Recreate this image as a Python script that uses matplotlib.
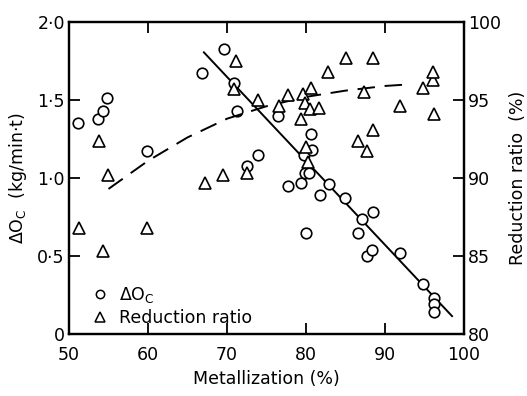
import numpy as np
import matplotlib
matplotlib.use("Agg")
import matplotlib.pyplot as plt
from matplotlib.lines import Line2D

# Oxygen consumption change (kg/min·t) versus metallization (%)
oc_metal = [51.1, 53.7, 54.3, 54.8, 59.9, 66.8, 69.6, 70.9, 71.3, 72.5, 73.9,
            76.5, 77.7, 79.4, 79.7, 79.9, 80.0, 80.4, 80.6, 80.8, 81.8, 82.9,
            85.0, 86.6, 87.1, 87.7, 88.4, 88.5, 91.9, 94.9, 96.2, 96.2, 96.2]
oc_value = [1.35, 1.38, 1.43, 1.51, 1.17, 1.67, 1.83, 1.61, 1.43, 1.08, 1.15,
            1.40, 0.95, 0.97, 1.15, 1.03, 0.65, 1.03, 1.28, 1.18, 0.89, 0.96,
            0.87, 0.65, 0.74, 0.50, 0.54, 0.78, 0.52, 0.32, 0.23, 0.19, 0.14]

# Reduction ratio (%) versus metallization (%)
rr_metal = [51.3, 53.8, 54.3, 54.9, 59.9, 67.2, 69.5, 70.9, 71.1, 72.5, 73.9,
            76.6, 77.7, 79.4, 79.6, 79.9, 80.0, 80.3, 80.5, 80.7, 81.7, 82.8,
            85.1, 86.6, 87.3, 87.7, 88.5, 88.5, 91.9, 94.8, 96.1, 96.1, 96.2]
rr_value = [86.8, 92.4, 85.3, 90.2, 86.8, 89.7, 90.2, 95.7, 97.5, 90.3, 95.0,
            94.6, 95.3, 93.8, 95.4, 94.8, 92.0, 91.0, 94.4, 95.8, 94.5, 96.8,
            97.7, 92.4, 95.5, 91.7, 93.1, 97.7, 94.6, 95.8, 96.3, 96.8, 94.1]

# Trend lines
oc_trend_x = [67.0, 98.6]
oc_trend_y = [1.81, 0.11]
rr_trend_x = [55.0, 60.0, 65.0, 70.0, 75.0, 80.0, 85.0, 90.0, 93.0]
rr_trend_y = [89.3, 91.1, 92.6, 93.8, 94.6, 95.2, 95.6, 95.9, 96.0]

x_ticks = [50, 60, 70, 80, 90, 100]
left_ticks = [0, 0.5, 1.0, 1.5, 2.0]
left_labels = ["0", "0·5", "1·0", "1·5", "2·0"]
right_ticks = [80, 85, 90, 95, 100]

plt.rcParams["font.family"] = ["DejaVu Sans"]
fig = plt.figure(figsize=(5.27, 3.96), dpi=100)
ax = fig.add_axes([0.131, 0.1566, 0.749, 0.7878])
ax2 = ax.twinx()
ax2.patch.set_visible(False)

ms = 7.6
mew = 1.2
ax.plot(oc_trend_x, oc_trend_y, color="black", lw=1.4, zorder=1,
        solid_capstyle="butt")
ax.plot(oc_metal, oc_value, linestyle="none", marker="o", ms=ms, mew=mew,
        mfc="white", mec="black", zorder=3)

ax2.plot(rr_trend_x, rr_trend_y, color="black", lw=1.4, zorder=1,
         dashes=(9, 5))
ax2.plot(rr_metal, rr_value, linestyle="none", marker="^", ms=ms + 0.6,
         mew=mew, mfc="white", mec="black", zorder=3)

ax.set_xlim(50, 100)
ax.set_ylim(0, 2.0)
ax2.set_ylim(80, 100)

ax.set_xticks(x_ticks)
ax.set_yticks(left_ticks)
ax.set_yticklabels(left_labels)
ax2.set_yticks(right_ticks)

for a in (ax, ax2):
    for s in a.spines.values():
        s.set_linewidth(1.6)
ax.tick_params(direction="in", length=8, width=1.3, labelsize=12.5,
               top=True)
ax.tick_params(axis="x", pad=9)
ax.tick_params(axis="y", pad=3)
ax2.tick_params(direction="in", length=8, width=1.3, labelsize=12.5, pad=3)

ax.set_xlabel("Metallization (%)", fontsize=12.5, labelpad=4)
ax.set_ylabel("ΔO$_\\mathrm{C}$  (kg/min·t)", fontsize=12.5, labelpad=6)
ax2.set_ylabel("Reduction ratio  (%)", fontsize=12.5, labelpad=6)

handles = [
    Line2D([], [], linestyle="none", marker="o", ms=6, mew=1.1,
           mfc="white", mec="black"),
    Line2D([], [], linestyle="none", marker="^", ms=6.5, mew=1.1,
           mfc="white", mec="black"),
]
ax.legend(handles, ["ΔO$_\\mathrm{C}$", "Reduction ratio"], loc="lower left",
          bbox_to_anchor=(0.03, -0.01), frameon=False, fontsize=12.5,
          handlelength=1.0, handletextpad=0.6, labelspacing=0.2,
          borderaxespad=0.2)

fig.savefig("out.png", dpi=100)
